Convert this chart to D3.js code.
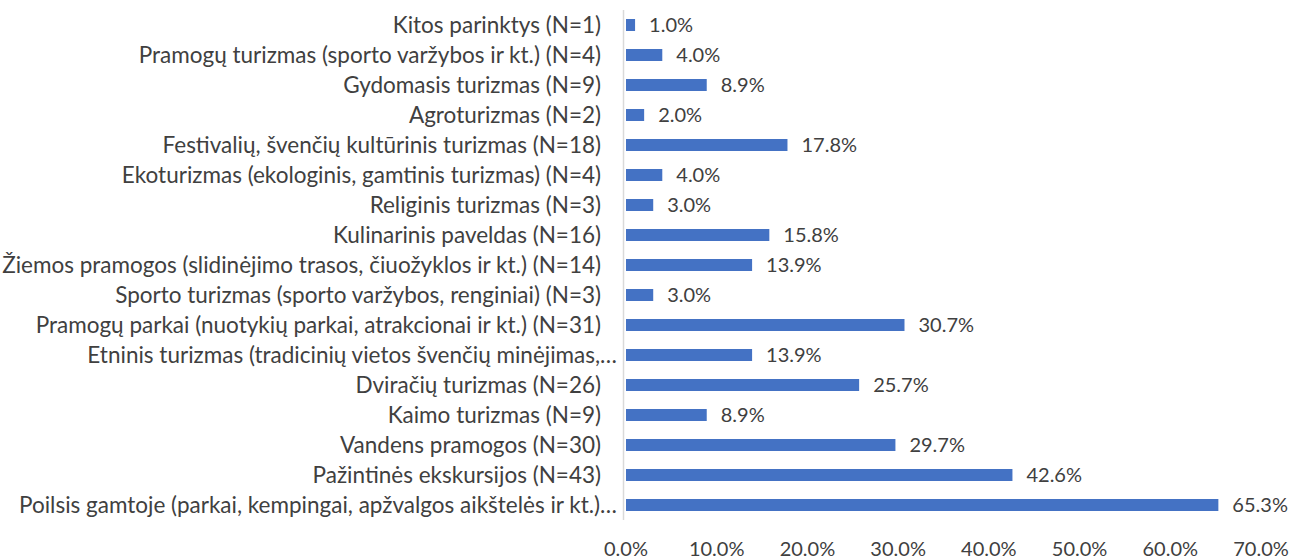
<!DOCTYPE html>
<html>
<head>
<meta charset="utf-8">
<script src="https://cdn.jsdelivr.net/npm/d3@7"></script>
<style>
  body { margin: 0; background: #fff; }
  svg text { font-family: Lato, "Open Sans", sans-serif; fill: #404040; }
</style>
</head>
<body>
<div id="chart"></div>
<script>
// categories, top to bottom
const categories = [
  'Kitos parinktys (N=1)',
  'Pramogų turizmas (sporto varžybos ir kt.) (N=4)',
  'Gydomasis turizmas (N=9)',
  'Agroturizmas (N=2)',
  'Festivalių, švenčių kultūrinis turizmas (N=18)',
  'Ekoturizmas (ekologinis, gamtinis turizmas) (N=4)',
  'Religinis turizmas (N=3)',
  'Kulinarinis paveldas (N=16)',
  'Žiemos pramogos (slidinėjimo trasos, čiuožyklos ir kt.) (N=14)',
  'Sporto turizmas (sporto varžybos, renginiai) (N=3)',
  'Pramogų parkai (nuotykių parkai, atrakcionai ir kt.) (N=31)',
  'Etninis turizmas (tradicinių vietos švenčių minėjimas,…',
  'Dviračių turizmas (N=26)',
  'Kaimo turizmas (N=9)',
  'Vandens pramogos (N=30)',
  'Pažintinės ekskursijos (N=43)',
  'Poilsis gamtoje (parkai, kempingai, apžvalgos aikštelės ir kt.)…'
];
const values = [1.0, 4.0, 8.9, 2.0, 17.8, 4.0, 3.0, 15.8, 13.9, 3.0, 30.7, 13.9, 25.7, 8.9, 29.7, 42.6, 65.3];
const ticks = [0, 10, 20, 30, 40, 50, 60, 70];

const width = 1296;
const height = 560;

const svg = d3.select('#chart').append('svg')
    .attr('width', width)
    .attr('height', height);

const x = d3.scaleLinear()
    .domain([0, 70])
    .range([626, 1261]);

const y = d3.scaleBand()
    .domain(categories)
    .range([10, 520])
    .paddingInner(0.6)
    .paddingOuter(0.3);

const fmt = d => d.toFixed(1) + '%';

// bars
svg.selectAll('rect.bar')
  .data(values)
  .enter().append('rect')
    .attr('class', 'bar')
    .attr('x', x(0))
    .attr('y', (d, i) => y(categories[i]))
    .attr('width', d => x(d) - x(0))
    .attr('height', y.bandwidth())
    .attr('fill', '#4472C4');

// value labels
svg.selectAll('text.val')
  .data(values)
  .enter().append('text')
    .attr('class', 'val')
    .attr('x', d => x(d) + 14)
    .attr('y', (d, i) => y(categories[i]) + y.bandwidth() / 2)
    .attr('dy', '0.36em')
    .style('font-size', '20px')
    .text(fmt);

// category labels (truncated ones overflow a bit, like Excel)
svg.selectAll('text.cat')
  .data(categories)
  .enter().append('text')
    .attr('class', 'cat')
    .attr('x', d => d.endsWith('…') ? 617 : 601)
    .attr('y', d => y(d) + y.bandwidth() / 2)
    .attr('dy', '0.36em')
    .attr('text-anchor', 'end')
    .style('font-size', '22.5px')
    .text(d => d);

// vertical axis line
svg.append('line')
    .attr('x1', 623.5).attr('x2', 623.5)
    .attr('y1', 10).attr('y2', 520)
    .attr('stroke', '#d9d9d9')
    .attr('stroke-width', 1.5);

// bottom tick labels (no axis line)
svg.selectAll('text.tick')
  .data(ticks)
  .enter().append('text')
    .attr('class', 'tick')
    .attr('x', d => x(d))
    .attr('y', 549)
    .attr('dy', '0.36em')
    .attr('text-anchor', 'middle')
    .style('font-size', '20px')
    .text(fmt);
</script>
</body>
</html>
